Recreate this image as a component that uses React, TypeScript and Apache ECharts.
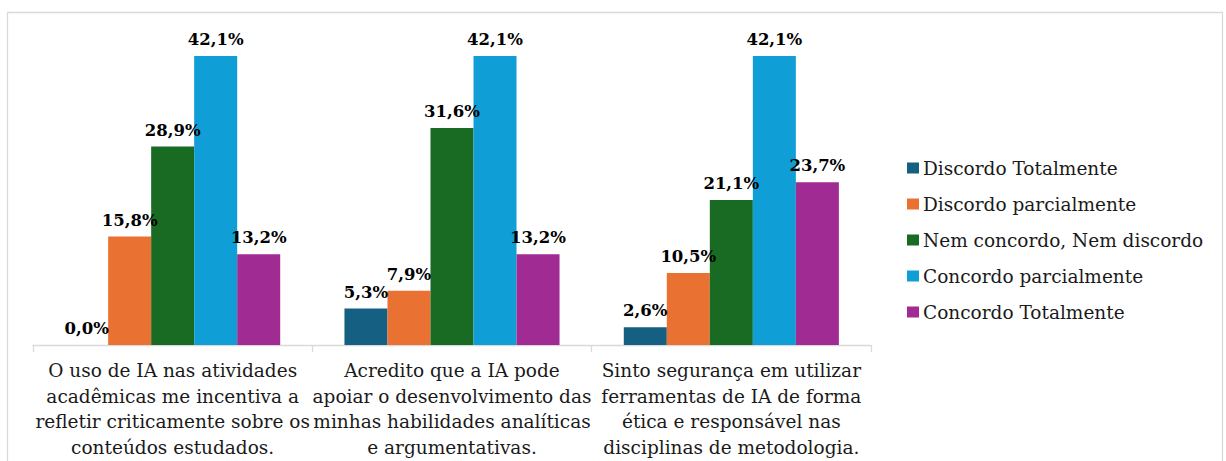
import React, { useEffect, useRef } from "react";
import * as echarts from "echarts";

const categories: string[] = [
  "O uso de IA nas atividades\nacadêmicas me incentiva a\nrefletir criticamente sobre os\nconteúdos estudados.",
  "Acredito que a IA pode\napoiar o desenvolvimento das\nminhas habilidades analíticas\ne argumentativas.",
  "Sinto segurança em utilizar\nferramentas de IA de forma\nética e responsável nas\ndisciplinas de metodologia.",
];

const seriesNames: string[] = [
  "Discordo Totalmente",
  "Discordo parcialmente",
  "Nem concordo, Nem discordo",
  "Concordo parcialmente",
  "Concordo Totalmente",
];

const discordoTotalmente: number[] = [0.0, 5.3, 2.6];
const discordoParcialmente: number[] = [15.8, 7.9, 10.5];
const nemConcordoNemDiscordo: number[] = [28.9, 31.6, 21.1];
const concordoParcialmente: number[] = [42.1, 42.1, 42.1];
const concordoTotalmente: number[] = [13.2, 13.2, 23.7];

const colors: string[] = ["#156082", "#E97132", "#196B24", "#0F9ED5", "#A02B93"];

const FONT = "DejaVu Serif";

export default function App() {
  const ref = useRef<HTMLDivElement>(null);

  useEffect(() => {
    document.body.style.margin = "0";
    if (!ref.current) return;
    const chart = echarts.init(ref.current, undefined, { renderer: "svg" });
    const values = [
      discordoTotalmente,
      discordoParcialmente,
      nemConcordoNemDiscordo,
      concordoParcialmente,
      concordoTotalmente,
    ];
    chart.setOption({
      animation: false,
      backgroundColor: "#ffffff",
      color: colors,
      textStyle: { fontFamily: FONT },
      graphic: [
        {
          type: "rect",
          shape: { x: 7.5, y: 12.5, width: 1215, height: 480 },
          style: { fill: "none", stroke: "#d9d9d9", lineWidth: 1.3 },
          silent: true,
          z: -1,
        },
      ],
      grid: { left: 33, right: 355, top: 36, bottom: 116 },
      legend: {
        orient: "vertical",
        left: 902,
        top: 152,
        itemWidth: 12,
        itemHeight: 11,
        itemGap: 14,
        icon: "rect",
        data: seriesNames,
        textStyle: {
          fontFamily: FONT,
          fontSize: 18.5,
          lineHeight: 22,
          color: "#1a1a1a",
          padding: [0, 0, 0, -1],
        },
      },
      xAxis: {
        type: "category",
        data: categories,
        axisLine: { show: true, lineStyle: { color: "#d9d9d9", width: 1.3 } },
        axisTick: { show: true, length: 7, lineStyle: { color: "#d9d9d9", width: 1.3 } },
        axisLabel: {
          margin: 13,
          interval: 0,
          fontFamily: FONT,
          fontSize: 18.5,
          lineHeight: 25.5,
          color: "#1a1a1a",
        },
      },
      yAxis: {
        type: "value",
        min: 0,
        max: 45,
        show: false,
        splitLine: { show: false },
      },
      series: seriesNames.map((name, i) => ({
        name,
        type: "bar",
        data: values[i],
        barGap: "0%",
        barCategoryGap: "23%",
        itemStyle: { color: colors[i] },
        label: {
          show: true,
          position: "top",
          distance: 8,
          fontFamily: FONT,
          fontSize: 16.5,
          fontWeight: "bold",
          color: "#000000",
          formatter: (p: any) => p.value.toFixed(1).replace(".", ",") + "%",
        },
      })),
    });
    return () => chart.dispose();
  }, []);

  return (
    <div
      ref={ref}
      style={{ position: "fixed", left: 0, top: 0, width: 1226, height: 461 }}
    />
  );
}
